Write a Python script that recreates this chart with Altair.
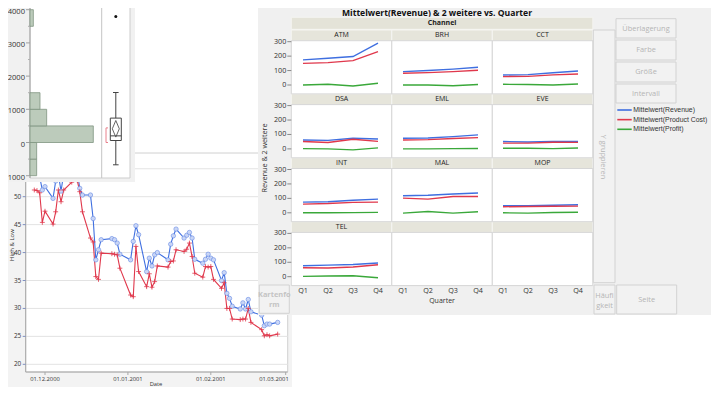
import altair as alt
import pandas as pd

FONT = "Open Sans"
LEG_FONT = "Liberation Sans"
TXT = "#333333"
BLUE = "#3f6fe0"
RED = "#e0384c"
GREEN = "#3aa83a"

# ---------------- data: High & Low vs Date ----------------
dates = ["2000-11-27", "2000-11-28", "2000-11-29", "2000-11-30", "2000-12-01",
         "2000-12-04", "2000-12-05", "2000-12-06", "2000-12-07", "2000-12-08",
         "2000-12-11", "2000-12-12", "2000-12-13", "2000-12-14", "2000-12-15",
         "2000-12-18", "2000-12-19", "2000-12-20", "2000-12-21", "2000-12-22",
         "2000-12-26", "2000-12-27", "2000-12-28", "2000-12-29",
         "2001-01-02", "2001-01-03", "2001-01-04", "2001-01-05",
         "2001-01-08", "2001-01-09", "2001-01-10", "2001-01-11", "2001-01-12",
         "2001-01-16", "2001-01-17", "2001-01-18", "2001-01-19",
         "2001-01-22", "2001-01-23", "2001-01-24", "2001-01-25", "2001-01-26",
         "2001-01-29", "2001-01-30", "2001-01-31", "2001-02-01", "2001-02-02",
         "2001-02-05", "2001-02-06", "2001-02-07", "2001-02-08", "2001-02-09",
         "2001-02-12", "2001-02-13", "2001-02-14", "2001-02-15", "2001-02-16",
         "2001-02-20", "2001-02-21", "2001-02-22", "2001-02-23", "2001-02-26"]
high = [54.0, 54.5, 53.6, 51.2, 51.8,
        49.7, 52.8, 54.0, 51.0, 54.2,
        55.5, 56.4, 54.8, 51.5, 50.3,
        50.3, 46.1, 38.7, 40.5, 42.3,
        42.5, 42.3, 41.7, 39.7,
        38.7, 42.0, 44.8, 43.2,
        36.6, 39.0, 37.6, 39.6, 40.0,
        38.7, 41.5, 43.0, 44.2,
        42.6, 43.1, 43.6, 42.6, 38.8,
        38.1, 38.8, 39.7, 39.0, 38.7,
        35.0, 36.4, 32.7, 31.8, 30.4,
        29.9, 31.0, 29.9, 31.6, 29.4,
        28.8, 26.9, 27.2, 27.2, 27.5]
low = [51.2, 51.1, 50.7, 45.4, 47.4,
       45.1, 47.3, 51.2, 49.1, 51.2,
       52.6, 53.8, 53.0, 50.9, 47.3,
       42.6, 41.9, 35.7, 35.2, 39.9,
       39.8, 39.7, 39.6, 37.2,
       32.4, 32.1, 41.1, 36.6,
       33.9, 36.2, 33.8, 34.8, 37.6,
       37.4, 38.4, 38.5, 40.5,
       40.2, 40.6, 41.7, 39.3, 36.3,
       35.6, 37.5, 37.4, 37.5, 35.2,
       33.6, 34.6, 30.0, 30.0, 28.1,
       28.0, 28.1, 28.1, 30.0, 27.5,
       26.2, 25.1, 25.3, 25.1, 25.4]
date_ticks = ["2000-12-01", "2001-01-01", "2001-02-01", "2001-03-01"]
date_tick_labels = ["01.12.2000", "01.01.2001", "01.02.2001", "01.03.2001"]
price_grid = [20, 25, 30, 35, 40, 45, 50, 55]
price_ticks = [20, 25, 30, 35, 40, 45, 50]
price_tick_labels = ["20", "25", "30", "35", "40", "45", "50"]

# ---------------- data: distribution (histogram + box plot) ----------------
hist_bin_lo = [-1000, -500, 0, 500, 1000, 3500]
hist_bin_hi = [-500, 0, 500, 1000, 1500, 4000]
hist_count = [2, 2, 19, 5, 3, 1]
dist_ticks = [-1000, 0, 1000, 2000, 3000, 4000]
dist_tick_labels = ["-1000", "0", "1000", "2000", "3000", "4000"]
dist_minor_ticks = [-500, 500, 1500, 2500, 3500]
box_q1, box_median, box_q3 = 60, 200, 735
box_whisker_lo, box_whisker_hi = -672, 1506
box_outliers = [3795]
mean_value, mean_ci_lo, mean_ci_hi = 413, 163, 663
shortest_half_lo, shortest_half_hi = 0, 440

# ---------------- data: Mittelwert by Channel and Quarter ----------------
channels = ["ATM", "BRH", "CCT", "DSA", "EML", "EVE", "INT", "MAL", "MOP", "TEL"]
quarters = ["Q1", "Q2", "Q3", "Q4"]
series_names = ["Mittelwert(Revenue)", "Mittelwert(Product Cost)", "Mittelwert(Profit)"]
series_colors = [BLUE, RED, GREEN]
mean_revenue = [[174, 185, 197, 290], [93, 100, 110, 123], [69, 72, 85, 97],
                [62, 59, 74, 69], [74, 76, 85, 97], [51, 48, 52, 51],
                [74, 77, 87, 95], [118, 122, 130, 137], [49, 50, 52, 56],
                [76, 80, 85, 95]]
mean_cost = [[150, 155, 169, 231], [81, 86, 93, 102], [58, 60, 70, 76],
             [51, 44, 67, 52], [62, 64, 72, 78], [40, 40, 46, 45],
             [60, 64, 72, 74], [102, 95, 113, 113], [42, 44, 45, 46],
             [62, 60, 67, 83]]
mean_profit = [[0, 5, -7, 12], [0, 0, -5, 3], [5, 3, 0, 7],
               [2, 0, -7, 7], [0, 0, 2, 3], [5, 4, 2, 6],
               [0, 0, 1, 3], [-2, 9, -2, 7], [0, -2, 2, 4],
               [2, 5, 7, -7]]
value_ticks = [0, 100, 200, 300]
value_tick_labels = ["0", "100", "200", "300"]

# ======================= layout (pixels in the chart) =======================
W, H = 703, 379
# line chart window
LC_BG = (0, 145, 284, 387)
LC_PLOT = (17.7, 145, 279.7, 364)
LC_XRANGE = [37, 277.7]      # 01.12.2000 .. 01.03.2001
LC_YRANGE = [356.3, 188.7]   # 20 .. 50
# distribution window
DW_BG = (0, 0, 127, 174)
DW_PLOT = (22, -2, 122, 170)
DW_SEP = 93.7
DW_YRANGE = [167.7, 1.7]     # -1000 .. 4000
DW_XRANGE = [22, 85.3]       # count 0 .. 19
BOX_L, BOX_R, BOX_C = 102.3, 113.3, 107.8
# facet window
FW_BG = (250, 0, 711, 307)
FG_X0, FG_CW = 283.3, 100.5
FG_Y0, FG_PITCH, FG_HDR = 22, 63.9, 10.7
F_XRANGE = [295, 570]        # x index 0 .. 11
F_Y0, F_Y300 = 77, 33.7      # row 0: value 0 / 300

def box_layer(boxes, fill, stroke=None, sw=1.0):
    df = pd.DataFrame(boxes, columns=["x", "y", "x2", "y2"])
    kw = dict(fill=fill, strokeWidth=sw)
    if stroke:
        kw["stroke"] = stroke
    else:
        kw["strokeWidth"] = 0
    return alt.Chart(df).mark_rect(**kw).encode(
        x=alt.X("x:Q", scale=None, axis=None), x2="x2:Q",
        y=alt.Y("y:Q", scale=None, axis=None), y2="y2:Q")

def seg_layer(segs, color, sw=1.0):
    df = pd.DataFrame(segs, columns=["x", "y", "x2", "y2"])
    return alt.Chart(df).mark_rule(color=color, strokeWidth=sw).encode(
        x=alt.X("x:Q", scale=None, axis=None), x2="x2:Q",
        y=alt.Y("y:Q", scale=None, axis=None), y2="y2:Q")

def text_layer(items, size, color, weight="normal", align="center", angle=0, baseline="middle"):
    df = pd.DataFrame(items, columns=["x", "y", "t"])
    return alt.Chart(df).mark_text(font=FONT, fontSize=size, color=color, fontWeight=weight,
                                   align=align, baseline=baseline, angle=angle).encode(
        x=alt.X("x:Q", scale=None, axis=None), y=alt.Y("y:Q", scale=None, axis=None), text="t:N")

layers = []

# ----------------------------- line chart -----------------------------
t0 = pd.Timestamp("2000-12-01")
lc = pd.DataFrame({"date": dates, "High": high, "Low": low})
lc["day"] = (pd.to_datetime(lc["date"]) - t0).dt.days
lc_long = lc.melt(id_vars=["date", "day"], value_vars=["High", "Low"], var_name="series", value_name="v")
lxs = alt.Scale(domain=[0, 90], range=LC_XRANGE, nice=False, zero=False)
lys = alt.Scale(domain=[20, 50], range=LC_YRANGE, nice=False, zero=False)
dt = pd.DataFrame({"day": (pd.to_datetime(date_ticks) - t0).days, "label": date_tick_labels})
pg = pd.DataFrame({"v": price_grid})
pt = pd.DataFrame({"v": price_ticks, "label": price_tick_labels})

layers.append(box_layer([LC_BG], "#f3f3f3"))
layers.append(box_layer([LC_PLOT], "#ffffff", "#d0d0d0"))
layers.append(alt.Chart(pg).mark_rule(color="#e3e3e3", strokeWidth=1).encode(
    y=alt.Y("v:Q", scale=lys, axis=None), x=alt.value(LC_PLOT[0]), x2=alt.value(LC_PLOT[2])))
layers.append(seg_layer([(LC_PLOT[0], LC_PLOT[1], LC_PLOT[0], LC_PLOT[3]),
                         (LC_PLOT[0], LC_PLOT[3], LC_PLOT[2], LC_PLOT[3])], "#a8a8a8"))
layers.append(alt.Chart(pt).mark_rule(color="#8090c0", strokeWidth=1).encode(
    y=alt.Y("v:Q", scale=lys, axis=None), x=alt.value(LC_PLOT[0] - 3), x2=alt.value(LC_PLOT[0])))
layers.append(alt.Chart(pt).mark_text(font=FONT, fontSize=6.4, color=TXT, align="right").encode(
    y=alt.Y("v:Q", scale=lys, axis=None), x=alt.value(LC_PLOT[0] - 4.5), text="label:N"))
layers.append(alt.Chart(dt).mark_rule(color="#a8a8a8").encode(
    x=alt.X("day:Q", scale=lxs, axis=None), y=alt.value(LC_PLOT[3]), y2=alt.value(LC_PLOT[3] + 3)))
layers.append(alt.Chart(dt.iloc[:3]).mark_text(font=FONT, fontSize=5.8, color=TXT).encode(
    x=alt.X("day:Q", scale=lxs, axis=None), y=alt.value(370.5), text="label:N"))
layers.append(alt.Chart(dt.iloc[3:]).mark_text(font=FONT, fontSize=5.8, color=TXT, align="right").encode(
    x=alt.value(LC_PLOT[2] + 1), y=alt.value(370.5), text="label:N"))
layers.append(text_layer([(148, 376.3, "Date")], 5.8, TXT))
layers.append(text_layer([(3.8, 237, "High & Low")], 6.0, TXT, angle=270))
layers.append(alt.Chart(lc_long).mark_line(strokeWidth=1.1).encode(
    x=alt.X("day:Q", scale=lxs, axis=None), y=alt.Y("v:Q", scale=lys, axis=None),
    color=alt.Color("series:N", scale=alt.Scale(domain=["High", "Low"], range=[BLUE, RED]), legend=None)))
layers.append(alt.Chart(lc).mark_point(shape="circle", filled=True, fill="#ccd8f7", stroke="#6d8fe6",
                                       strokeWidth=0.7, size=19, opacity=0.95).encode(
    x=alt.X("day:Q", scale=lxs, axis=None), y=alt.Y("High:Q", scale=lys, axis=None)))
layers.append(alt.Chart(lc).mark_point(shape="M-1,0L1,0M0,-1L0,1", filled=False, stroke=RED,
                                       strokeWidth=0.8, size=24, opacity=1).encode(
    x=alt.X("day:Q", scale=lxs, axis=None), y=alt.Y("Low:Q", scale=lys, axis=None)))

# ----------------------------- distribution -----------------------------
dys = alt.Scale(domain=[-1000, 4000], range=DW_YRANGE, nice=False, zero=False)
dxs = alt.Scale(domain=[0, 19], range=DW_XRANGE, nice=False, zero=False)
hist = pd.DataFrame({"lo": hist_bin_lo, "hi": hist_bin_hi, "n": hist_count})
dtk = pd.DataFrame({"v": dist_ticks, "label": dist_tick_labels})
dmn = pd.DataFrame({"v": dist_minor_ticks})
bx = pd.DataFrame({"q1": [box_q1], "med": [box_median], "q3": [box_q3], "wlo": [box_whisker_lo],
                   "whi": [box_whisker_hi], "mean": [mean_value], "clo": [mean_ci_lo],
                   "chi": [mean_ci_hi], "slo": [shortest_half_lo], "shi": [shortest_half_hi]})
outl = pd.DataFrame({"v": box_outliers})

layers.append(box_layer([DW_BG], "#f1f1f1"))
layers.append(box_layer([DW_PLOT], "#ffffff", "#cdcdcd"))
layers.append(seg_layer([(DW_SEP, DW_PLOT[1], DW_SEP, DW_PLOT[3])], "#c4c4c4"))
layers.append(seg_layer([(DW_PLOT[0], DW_PLOT[1], DW_PLOT[0], DW_PLOT[3])], "#a0a0a0"))
layers.append(alt.Chart(dtk).mark_rule(color="#a0a0a0").encode(
    y=alt.Y("v:Q", scale=dys, axis=None), x=alt.value(DW_PLOT[0] - 4), x2=alt.value(DW_PLOT[0])))
layers.append(alt.Chart(dmn).mark_rule(color="#b0b0b0").encode(
    y=alt.Y("v:Q", scale=dys, axis=None), x=alt.value(DW_PLOT[0] - 2), x2=alt.value(DW_PLOT[0])))
layers.append(alt.Chart(dtk).mark_text(font=FONT, fontSize=7.6, color=TXT, align="right", dy=2).encode(
    y=alt.Y("v:Q", scale=dys, axis=None), x=alt.value(DW_PLOT[0] - 5), text="label:N"))
layers.append(alt.Chart(hist).mark_rect(fill="#bccbbb", stroke="#7f9480", strokeWidth=0.8).encode(
    y=alt.Y("lo:Q", scale=dys, axis=None), y2="hi:Q",
    x=alt.X("n:Q", scale=dxs, axis=None), x2=alt.datum(0)))
layers.append(alt.Chart(bx).mark_rule(color="#444444").encode(
    y=alt.Y("wlo:Q", scale=dys, axis=None), y2="whi:Q", x=alt.value(BOX_C)))
layers.append(alt.Chart(bx).mark_rule(color="#444444").encode(
    y=alt.Y("wlo:Q", scale=dys, axis=None), x=alt.value(BOX_C - 2.8), x2=alt.value(BOX_C + 2.8)))
layers.append(alt.Chart(bx).mark_rule(color="#444444").encode(
    y=alt.Y("whi:Q", scale=dys, axis=None), x=alt.value(BOX_C - 2.8), x2=alt.value(BOX_C + 2.8)))
layers.append(alt.Chart(bx).mark_rect(fill="#ffffff", stroke="#444444", strokeWidth=1).encode(
    y=alt.Y("q1:Q", scale=dys, axis=None), y2="q3:Q", x=alt.value(BOX_L), x2=alt.value(BOX_R)))
layers.append(alt.Chart(bx).mark_rule(color="#444444").encode(
    y=alt.Y("med:Q", scale=dys, axis=None), x=alt.value(BOX_L), x2=alt.value(BOX_R)))
for yf, y2f, xa, xb in [("chi", "mean", BOX_C, BOX_C - 3.5), ("chi", "mean", BOX_C, BOX_C + 3.5),
                        ("clo", "mean", BOX_C, BOX_C - 3.5), ("clo", "mean", BOX_C, BOX_C + 3.5)]:
    layers.append(alt.Chart(bx).mark_rule(color="#555555", strokeWidth=0.9).encode(
        y=alt.Y(f"{yf}:Q", scale=dys, axis=None), y2=f"{y2f}:Q", x=alt.value(xa), x2=alt.value(xb)))
layers.append(alt.Chart(bx).mark_rule(color="#e8808c").encode(
    y=alt.Y("slo:Q", scale=dys, axis=None), y2="shi:Q", x=alt.value(98)))
for f in ["slo", "shi"]:
    layers.append(alt.Chart(bx).mark_rule(color="#e8808c").encode(
        y=alt.Y(f"{f}:Q", scale=dys, axis=None), x=alt.value(98), x2=alt.value(100)))
layers.append(alt.Chart(outl).mark_point(shape="circle", filled=True, color="#111111", size=9, opacity=1).encode(
    y=alt.Y("v:Q", scale=dys, axis=None), x=alt.value(BOX_C)))

# ----------------------------- facet window -----------------------------
rows = []
for ci, ch in enumerate(channels):
    r, c = divmod(ci, 3)
    for sname, vals in zip(series_names, [mean_revenue, mean_cost, mean_profit]):
        for qi, q in enumerate(quarters):
            rows.append(dict(channel=ch, row=r, col=c, quarter=q, series=sname,
                             xi=c * 4 + qi, value=vals[ci][qi]))
fdf = pd.DataFrame(rows)
hdr = pd.DataFrame([dict(channel=ch, row=i // 3, col=i % 3) for i, ch in enumerate(channels)])
qdf = pd.DataFrame([dict(xi=c * 4 + qi, q=q) for c in range(3) for qi, q in enumerate(quarters)])
vt = pd.DataFrame({"v": value_ticks, "label": value_tick_labels})
fxs = alt.Scale(domain=[0, 11], range=F_XRANGE, nice=False, zero=False)

layers.append(box_layer([FW_BG], "#f0f0f0"))
layers.append(text_layer([(429, 4.6, "Mittelwert(Revenue) & 2 weitere vs. Quarter")], 8.6, "#111111", weight="bold"))
# headers & panels
hboxes, pboxes = [], []
for r in range(4):
    for c in range(3):
        x0 = FG_X0 + FG_CW * c
        y0 = FG_Y0 + FG_PITCH * r
        hboxes.append((x0, y0, x0 + FG_CW, y0 + FG_HDR))
        pboxes.append((x0, y0 + FG_HDR, x0 + FG_CW, y0 + FG_PITCH))
layers.append(box_layer([(FG_X0, 9.3, FG_X0 + 3 * FG_CW, 21.3)], "#e4e3d8", "#f4f4f0"))
layers.append(box_layer(hboxes, "#e6e5db", "#f6f6f2"))
layers.append(box_layer(pboxes, "#ffffff", "#d6d6d6"))
layers.append(text_layer([(FG_X0 + 1.5 * FG_CW, 15.3, "Channel")], 7.0, "#222222", weight="bold"))
hxs = alt.Scale(domain=[0, 2], range=[FG_X0 + FG_CW / 2, FG_X0 + 2.5 * FG_CW], nice=False, zero=False)
hys = alt.Scale(domain=[0, 3], range=[FG_Y0 + FG_HDR / 2, FG_Y0 + FG_HDR / 2 + 3 * FG_PITCH], nice=False, zero=False)
layers.append(alt.Chart(hdr).mark_text(font=FONT, fontSize=7.0, color="#222222").encode(
    x=alt.X("col:Q", scale=hxs, axis=None), y=alt.Y("row:Q", scale=hys, axis=None), text="channel:N"))
for r in range(4):
    ysc = alt.Scale(domain=[0, 300], range=[F_Y0 + FG_PITCH * r, F_Y300 + FG_PITCH * r], nice=False, zero=False)
    sub = fdf[fdf["row"] == r]
    layers.append(alt.Chart(vt).mark_rule(color="#888888").encode(
        y=alt.Y("v:Q", scale=ysc, axis=None), x=alt.value(FG_X0 - 4), x2=alt.value(FG_X0)))
    layers.append(alt.Chart(vt).mark_text(font=FONT, fontSize=7.2, color=TXT, align="right").encode(
        y=alt.Y("v:Q", scale=ysc, axis=None), x=alt.value(FG_X0 - 5), text="label:N"))
    layers.append(alt.Chart(sub).mark_line(strokeWidth=1.4).encode(
        x=alt.X("xi:Q", scale=fxs, axis=None), y=alt.Y("value:Q", scale=ysc, axis=None),
        color=alt.Color("series:N", scale=alt.Scale(domain=series_names, range=series_colors), legend=None),
        detail="channel:N"))
layers.append(alt.Chart(qdf).mark_text(font=FONT, fontSize=7.2, color=TXT).encode(
    x=alt.X("xi:Q", scale=fxs, axis=None), y=alt.value(283), text="q:N"))
layers.append(text_layer([(FG_X0 + 1.5 * FG_CW, 293, "Quarter")], 7.0, TXT))
layers.append(text_layer([(256.5, 150, "Revenue & 2 weitere")], 7.2, TXT, angle=270))
# drop zones / buttons
btn_boxes = [(608, 10.7, 668, 30), (608, 32, 668, 52), (608, 54, 668, 74), (608, 76, 668, 95),
             (585.3, 22, 607, 274.7), (586, 277, 607, 306), (608.7, 277, 668.7, 306),
             (251.3, 277, 281.3, 305.3)]
layers.append(box_layer(btn_boxes, "#f2f2f2", "#d2d2d2"))
btn_color = "#b5b5b5"
layers.append(text_layer([(638, 20.5, "Überlagerung"), (638, 42, "Farbe"), (638, 64, "Größe"),
                          (638, 85.5, "Intervall"), (638.7, 291.5, "Seite"),
                          (596.5, 287.5, "Häufi"), (596.5, 297.5, "gkeit")], 7.4, btn_color))
layers.append(text_layer([(266.3, 287, "Kartenfo"), (266.3, 297, "rm")], 7.4, "#c4c4c4", weight="bold"))
layers.append(text_layer([(594.5, 149, "Y gruppieren")], 7.4, btn_color, angle=90))
# legend
leg = pd.DataFrame({"series": series_names})
lgs = alt.Scale(type="point", domain=series_names, range=[102, 121.3], padding=0)
layers.append(alt.Chart(leg).mark_rule(strokeWidth=1.6).encode(
    y=alt.Y("series:N", scale=lgs, axis=None), x=alt.value(609.3), x2=alt.value(623.7),
    color=alt.Color("series:N", scale=alt.Scale(domain=series_names, range=series_colors), legend=None)))
layers.append(alt.Chart(leg).mark_text(font=LEG_FONT, fontSize=6.9, color=TXT, align="left").encode(
    y=alt.Y("series:N", scale=lgs, axis=None), x=alt.value(625.3), text="series:N"))

chart = alt.layer(*layers).resolve_scale(
    x="independent", y="independent", color="independent"
).properties(
    width=W, height=H, padding=0, autosize=alt.AutoSizeParams(type="none"), background="white"
).configure_view(stroke=None)

chart.save("out.html", embed_options={"renderer": "svg", "actions": False})
